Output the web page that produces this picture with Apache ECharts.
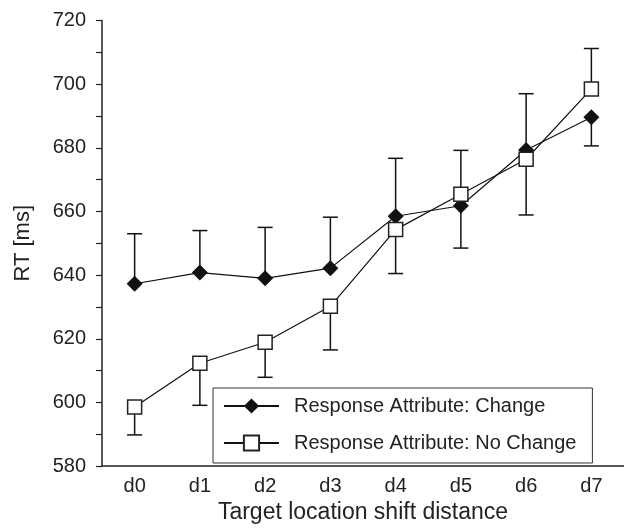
<!DOCTYPE html>
<html>
<head>
<meta charset="utf-8">
<script src="https://cdn.jsdelivr.net/npm/echarts@6/dist/echarts.min.js"></script>
<style>
  html, body { margin: 0; padding: 0; background: #fff; }
  #main { width: 624px; height: 529px; }
</style>
</head>
<body>
<div id="main"></div>
<script>
var categories = ['d0', 'd1', 'd2', 'd3', 'd4', 'd5', 'd6', 'd7'];

var changeMean = [637.3, 640.8, 639, 642.2, 658.5, 661.8, 679.3, 689.6];
var changeErrEnd = [653, 654, 655, 658.2, 676.7, 648.5, 697, 680.6];

var noChangeMean = [598.6, 612.3, 618.9, 630.2, 654.3, 665.4, 676.4, 698.5];
var noChangeErrEnd = [589.8, 599.1, 607.9, 616.5, 640.5, 679.2, 658.9, 711.2];

var yTicks = { min: 580, max: 720, interval: 20 };

var FONT = 'Liberation Sans, Arial, sans-serif';

function errData(mean, ends) {
  return mean.map(function (m, i) { return [i, m, ends[i]]; });
}

function renderErr(params, api) {
  var x = api.value(0);
  var a = api.coord([x, api.value(1)]);
  var b = api.coord([x, api.value(2)]);
  var half = 7.5;
  var st = { stroke: '#111', lineWidth: 1.5 };
  return {
    type: 'group',
    children: [
      { type: 'line', shape: { x1: a[0], y1: a[1], x2: b[0], y2: b[1] }, style: st },
      { type: 'line', shape: { x1: b[0] - half, y1: b[1], x2: b[0] + half, y2: b[1] }, style: st }
    ]
  };
}

var chart = echarts.init(document.getElementById('main'));

chart.setOption({
  animation: false,
  backgroundColor: '#fff',
  grid: { left: 102, right: 0, top: 20.5, bottom: 60 },
  legend: {
    data: ['Response Attribute: Change', 'Response Attribute: No Change'],
    orient: 'vertical',
    left: 213,
    top: 388,
    padding: [8, 16, 10, 10],
    itemWidth: 55,
    itemHeight: 19,
    itemGap: 17,
    backgroundColor: '#fff',
    borderColor: '#333',
    borderWidth: 1,
    textStyle: { fontFamily: FONT, fontSize: 20, color: '#222', padding: [0, 0, 0, 10] }
  },
  xAxis: {
    type: 'category',
    data: categories,
    boundaryGap: true,
    name: 'Target location shift distance',
    nameLocation: 'middle',
    nameGap: 33,
    nameTextStyle: { fontFamily: FONT, fontSize: 23, color: '#222' },
    axisLine: { lineStyle: { color: '#222', width: 1.5 } },
    axisTick: { length: 7, lineStyle: { color: '#222', width: 1.2 } },
    axisLabel: { fontFamily: FONT, fontSize: 20, color: '#222', margin: 10 },
    splitLine: { show: false }
  },
  yAxis: {
    type: 'value',
    min: yTicks.min,
    max: yTicks.max,
    interval: yTicks.interval,
    name: 'RT [ms]',
    nameLocation: 'middle',
    nameGap: 68,
    nameTextStyle: { fontFamily: FONT, fontSize: 22, color: '#222' },
    axisLine: { show: true, lineStyle: { color: '#222', width: 1.5 } },
    axisTick: { show: true, length: 6, lineStyle: { color: '#222', width: 1.2 } },
    minorTick: { show: true, splitNumber: 2, length: 6, lineStyle: { color: '#222', width: 1.2 } },
    axisLabel: { fontFamily: FONT, fontSize: 20, color: '#222', margin: 16 },
    splitLine: { show: false }
  },
  series: [
    {
      type: 'custom',
      name: 'errChange',
      renderItem: renderErr,
      data: errData(changeMean, changeErrEnd),
      encode: { x: 0, y: [1, 2] },
      z: 1,
      silent: true
    },
    {
      type: 'custom',
      name: 'errNoChange',
      renderItem: renderErr,
      data: errData(noChangeMean, noChangeErrEnd),
      encode: { x: 0, y: [1, 2] },
      z: 1,
      silent: true
    },
    {
      type: 'line',
      name: 'Response Attribute: Change',
      data: changeMean,
      symbol: 'diamond',
      symbolSize: [16, 16],
      lineStyle: { color: '#111', width: 1.2 },
      itemStyle: { color: '#111', borderColor: '#111', borderWidth: 0 },
      z: 3
    },
    {
      type: 'line',
      name: 'Response Attribute: No Change',
      data: noChangeMean,
      symbol: 'rect',
      symbolSize: 14,
      lineStyle: { color: '#111', width: 1.2 },
      itemStyle: { color: '#fff', borderColor: '#222', borderWidth: 1.5 },
      z: 4
    }
  ]
});
</script>
</body>
</html>
